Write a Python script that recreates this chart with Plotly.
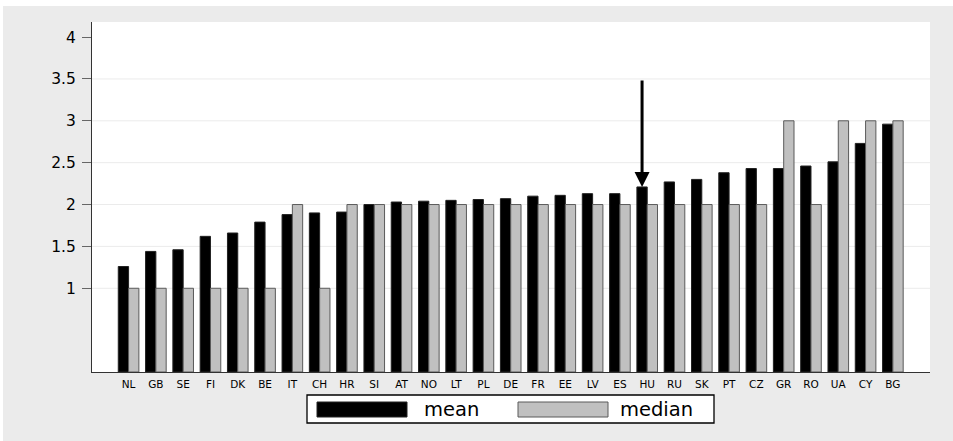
import plotly.graph_objects as go

# Countries ordered by mean value
countries = ["NL", "GB", "SE", "FI", "DK", "BE", "IT", "CH", "HR", "SI",
             "AT", "NO", "LT", "PL", "DE", "FR", "EE", "LV", "ES", "HU",
             "RU", "SK", "PT", "CZ", "GR", "RO", "UA", "CY", "BG"]
mean_vals = [1.26, 1.44, 1.46, 1.62, 1.66, 1.79, 1.88, 1.90, 1.91, 2.00,
             2.03, 2.04, 2.05, 2.06, 2.07, 2.10, 2.11, 2.13, 2.13, 2.21,
             2.27, 2.30, 2.38, 2.43, 2.43, 2.46, 2.51, 2.73, 2.96]
median_vals = [1, 1, 1, 1, 1, 1, 2, 1, 2, 2,
               2, 2, 2, 2, 2, 2, 2, 2, 2, 2,
               2, 2, 2, 2, 3, 2, 3, 3, 3]
y_ticks = [1, 1.5, 2, 2.5, 3, 3.5, 4]
y_tick_labels = ["1", "1.5", "2", "2.5", "3", "3.5", "4"]
grid_vals = [1, 1.5, 2, 2.5, 3, 3.5]
highlight = "HU"
arrow_start = 3.5

W, H = 953, 441
ML, MR, MT, MB = 92, 23, 22, 69
PW, PH = W - ML - MR, H - MT - MB
BARGAP = 0.245
FONT = "DejaVu Sans"
BG = "#ebebeb"


def px_x(p):
    return (p - ML) / PW


def px_y(p):
    return (H - MB - p) / PH


fig = go.Figure()
fig.add_trace(go.Bar(x=countries, y=mean_vals, name="mean",
                     marker=dict(color="#000000", line=dict(color="#222222", width=1))))
fig.add_trace(go.Bar(x=countries, y=median_vals, name="median",
                     marker=dict(color="#c0c0c0", line=dict(color="#5a5a5a", width=1))))

shapes = []
# horizontal grid lines
for g in grid_vals:
    shapes.append(dict(type="line", xref="paper", yref="y", x0=0, x1=1, y0=g, y1=g,
                       line=dict(color="#ebebeb", width=1), layer="below"))
# thin white border strip at top/left of the page
shapes.append(dict(type="rect", xref="paper", yref="paper", x0=px_x(0), x1=px_x(W),
                   y0=px_y(6), y1=px_y(0), fillcolor="white", line=dict(width=0)))
shapes.append(dict(type="rect", xref="paper", yref="paper", x0=px_x(0), x1=px_x(3),
                   y0=px_y(H), y1=px_y(0), fillcolor="white", line=dict(width=0)))
# legend box and swatches
shapes.append(dict(type="rect", xref="paper", yref="paper", x0=px_x(307), x1=px_x(714),
                   y0=px_y(423), y1=px_y(395), fillcolor="white",
                   line=dict(color="#000000", width=1.3)))
shapes.append(dict(type="rect", xref="paper", yref="paper", x0=px_x(317), x1=px_x(407),
                   y0=px_y(417), y1=px_y(402), fillcolor="#000000",
                   line=dict(color="#222222", width=1)))
shapes.append(dict(type="rect", xref="paper", yref="paper", x0=px_x(518), x1=px_x(608),
                   y0=px_y(417), y1=px_y(402), fillcolor="#c0c0c0",
                   line=dict(color="#5a5a5a", width=1)))

annotations = [
    dict(xref="paper", yref="paper", x=px_x(422), y=px_y(409.5), text="mean",
         showarrow=False, xanchor="left", yanchor="middle",
         font=dict(family=FONT, size=19.5, color="#000")),
    dict(xref="paper", yref="paper", x=px_x(618), y=px_y(409.5), text="median",
         showarrow=False, xanchor="left", yanchor="middle",
         font=dict(family=FONT, size=19.5, color="#000")),
]

# arrow pointing at the highlighted country's mean bar
hi = countries.index(highlight)
xoff = (1 - BARGAP) / 4
annotations.append(dict(x=hi - xoff, y=mean_vals[hi], xref="x", yref="y",
                        ax=hi - xoff, ay=arrow_start, axref="x", ayref="y",
                        text="", showarrow=True, arrowhead=2, arrowsize=1,
                        arrowwidth=3, arrowcolor="#000000", standoff=0))

fig.update_layout(
    width=W, height=H,
    margin=dict(l=ML, r=MR, t=MT, b=MB, pad=0),
    paper_bgcolor=BG, plot_bgcolor="white",
    barmode="group", bargap=BARGAP, bargroupgap=0,
    showlegend=False,
    font=dict(family=FONT, color="#000"),
    shapes=shapes, annotations=annotations,
    xaxis=dict(type="category", range=[-1.34, len(countries) - 1 + 1.36],
               showgrid=False, showline=True, linecolor="#333333", linewidth=1,
               ticks="", tickfont=dict(family=FONT, size=10.5, color="#000"),
               ticklabelstandoff=2, fixedrange=True),
    yaxis=dict(range=[0, 4.18], tickvals=y_ticks, ticktext=y_tick_labels,
               showgrid=False, zeroline=False, showline=True, linecolor="#333333",
               linewidth=1, ticks="outside", ticklen=9, tickcolor="#666666",
               tickfont=dict(family=FONT, size=15.5, color="#000"),
               ticklabelstandoff=3, fixedrange=True),
)

fig.write_html("out.html")
